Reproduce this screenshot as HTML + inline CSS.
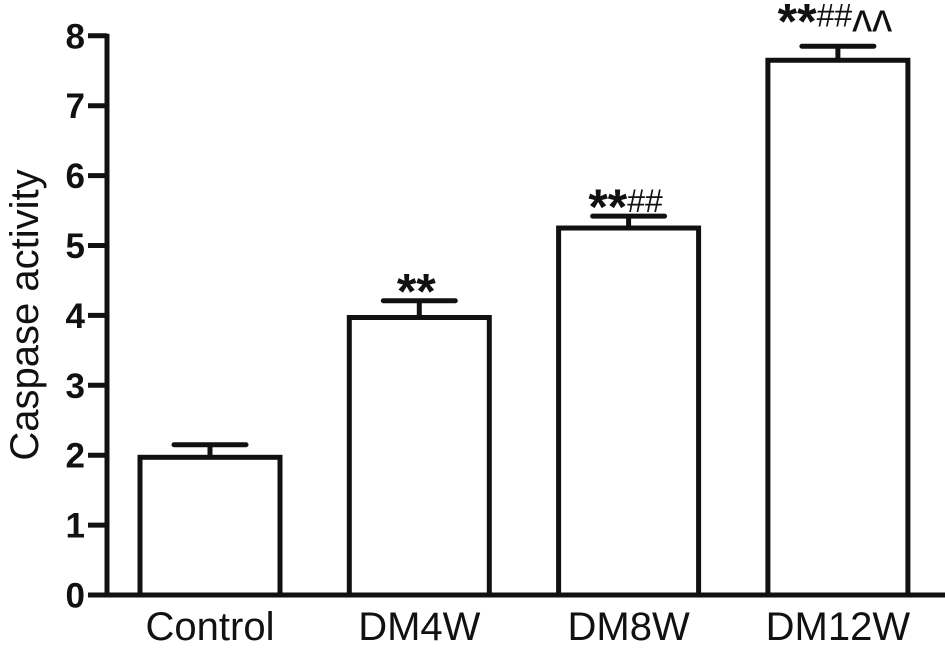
<!DOCTYPE html>
<html><head><meta charset="utf-8"><style>
html,body{margin:0;padding:0;background:#fff;}
svg{display:block;font-family:"Liberation Sans",Arial,sans-serif;}
</style></head><body>
<svg id="chart" width="945" height="652" viewBox="0 0 945 652" xmlns="http://www.w3.org/2000/svg"></svg>
<script>
const categories=["Control","DM4W","DM8W","DM12W"];
const values=[1.97,3.97,5.25,7.65];
const errors=[0.18,0.24,0.17,0.2];
const sigStars=["","**","**","**"];
const sigHash=["","","##","##"];
const sigCaret=["","","","^^"];
const yTicks=[0,1,2,3,4,5,6,7,8];
const NS="http://www.w3.org/2000/svg";
const svg=document.getElementById('chart');
const y0=595,pxPer=69.9,axisX=107;
const y=v=>y0-v*pxPer;
const barLeft=i=>140+i*209.3, barW=140;
function mk(t,a,txt){const e=document.createElementNS(NS,t);for(const k in a)e.setAttribute(k,a[k]);if(txt!==undefined)e.textContent=txt;svg.appendChild(e);return e;}
let e=mk('line',{x1:axisX,y1:y(8)-2,x2:axisX,y2:y0+2.5,stroke:'#111','stroke-width':5});

e=mk('line',{x1:axisX-2,y1:y0,x2:945,y2:y0,stroke:'#111','stroke-width':5});

yTicks.forEach(t=>{
 let l=mk('line',{x1:88,y1:y(t),x2:axisX,y2:y(t),stroke:'#111','stroke-width':5});
 
 let tx=mk('text',{x:85,y:y(t)+12.5,'text-anchor':'end','font-size':35,'font-weight':'bold',fill:'#111'},String(t));
 
});
e=mk('text',{x:0,y:0,transform:'translate(38,315) rotate(-90)','text-anchor':'middle','font-size':40,fill:'#111'},'Caspase activity');

categories.forEach((c,i)=>{
 const x=barLeft(i),cx=x+barW/2;
 let r=mk('rect',{x:x,y:y(values[i]),width:barW,height:y0-y(values[i]),fill:'#fff',stroke:'#111','stroke-width':5});
 
 const ye=y(values[i]+errors[i]);
 let l=mk('line',{x1:cx,y1:y(values[i]),x2:cx,y2:ye,stroke:'#111','stroke-width':5});
 
 l=mk('line',{x1:cx-36,y1:ye,x2:cx+36,y2:ye,stroke:'#111','stroke-width':5,'stroke-linecap':'round'});
 
 let t=mk('text',{x:cx,y:640,'text-anchor':'middle','font-size':40,fill:'#111'},c);
 
 if(sigStars[i]){
  let g=mk('text',{x:cx-3,y:ye-(i==3?8:-8),'text-anchor':'middle',fill:'#111'});
  
  const a=document.createElementNS(NS,'tspan');a.setAttribute('font-size',50);a.setAttribute('font-weight','bold');a.textContent=sigStars[i];g.appendChild(a);
  if(sigHash[i]){const b=document.createElementNS(NS,'tspan');b.setAttribute('font-size',32);b.setAttribute('dy','-12');b.textContent=sigHash[i];g.appendChild(b);}
  if(sigCaret[i]){const d=document.createElementNS(NS,'tspan');d.setAttribute('font-size',40);d.setAttribute('dy','5');d.textContent='\u028C\u028C';g.appendChild(d);}
 }
});
</script>
</body></html>
